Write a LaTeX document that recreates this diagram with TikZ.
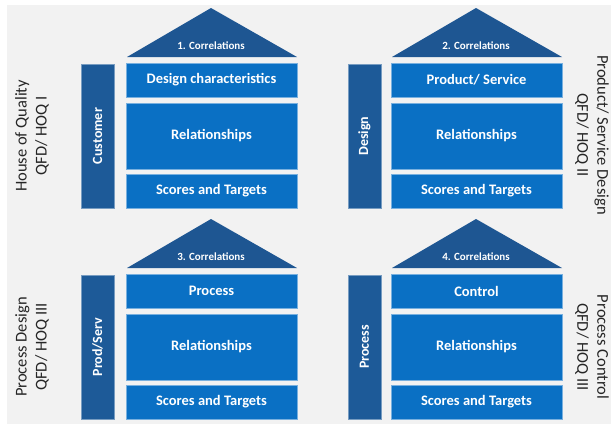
\documentclass[tikz,border=0pt]{standalone}
\usepackage{fontspec}
\setmainfont{Carlito}

\definecolor{roofblue}{RGB}{30,86,146}
\definecolor{colblue}{RGB}{29,90,152}
\definecolor{boxblue}{RGB}{10,112,196}
\definecolor{bggray}{RGB}{242,242,242}

\begin{document}
\begin{tikzpicture}[x=1pt,y=-1pt,
    box/.style={fill=boxblue, draw=boxblue!55!white, line width=0.5pt, text=white,
      font=\fontsize{14.5}{16}\selectfont\bfseries, minimum width=171pt, inner sep=0pt},
    sidecol/.style={fill=colblue, draw=colblue!60!white, line width=0.5pt, text=white,
      font=\fontsize{14}{16}\selectfont\bfseries, rotate=90,
      minimum width=144pt, minimum height=33pt, inner sep=0pt},
    rooftext/.style={text=white, font=\fontsize{11}{12}\selectfont\bfseries, inner sep=0pt},
    sidelabel/.style={align=center, text=black!85, inner sep=0pt,
      font=\fontsize{16.5}{20}\selectfont}]
            \useasboundingbox (0,0) rectangle (611,424);
            \fill [bggray] (7,5) rectangle (611,424);
            % house 1
            \fill [roofblue] (127,57) -- (211,8) -- (297,57) -- cycle;
            \node [rooftext] (corr1) at (211,46) {1. Correlations};
            \node [sidecol] (cust) at (97.5,136) {Customer};
            \node [box, minimum height=34pt] (dchar) at (211.5,80) {Design characteristics};
            \node [box, minimum height=66pt] (rel1) at (211.5,136) {Relationships};
            \node [box, minimum height=34pt] (score1) at (211.5,191) {Scores and Targets};
            \node [sidelabel, rotate=90] (lab1) at (32,136) {House of Quality\\QFD/ HOQ I};
            % house 2
            \fill [roofblue] (392,57) -- (476,8) -- (562,57) -- cycle;
            \node [rooftext] (corr2) at (476,46) {2. Correlations};
            \node [sidecol] (design) at (364.5,136) {Design};
            \node [box, minimum height=34pt] (prodserv) at (476.5,80) {Product/ Service};
            \node [box, minimum height=66pt] (rel2) at (476.5,136) {Relationships};
            \node [box, minimum height=34pt] (score2) at (476.5,191) {Scores and Targets};
            \node [sidelabel, rotate=-90] (lab2) at (592,135) {Product/ Service Design\\QFD/ HOQ II};
            % house 3
            \fill [roofblue] (127,268) -- (211,219) -- (297,268) -- cycle;
            \node [rooftext] (corr3) at (211,257) {3. Correlations};
            \node [sidecol] (prodserv2) at (97.5,347) {Prod/Serv};
            \node [box, minimum height=34pt] (proc) at (211.5,291) {Process};
            \node [box, minimum height=66pt] (rel3) at (211.5,347) {Relationships};
            \node [box, minimum height=34pt] (score3) at (211.5,402) {Scores and Targets};
            \node [sidelabel, rotate=90] (lab3) at (32,347) {Process Design\\QFD/ HOQ III};
            % house 4
            \fill [roofblue] (392,268) -- (476,219) -- (562,268) -- cycle;
            \node [rooftext] (corr4) at (476,257) {4. Correlations};
            \node [sidecol] (process) at (364.5,347) {Process};
            \node [box, minimum height=34pt] (ctrl) at (476.5,291) {Control};
            \node [box, minimum height=66pt] (rel4) at (476.5,347) {Relationships};
            \node [box, minimum height=34pt] (score4) at (476.5,402) {Scores and Targets};
            \node [sidelabel, rotate=-90] (lab4) at (592,347) {Process Control\\QFD/ HOQ III};
\end{tikzpicture}
\end{document}
